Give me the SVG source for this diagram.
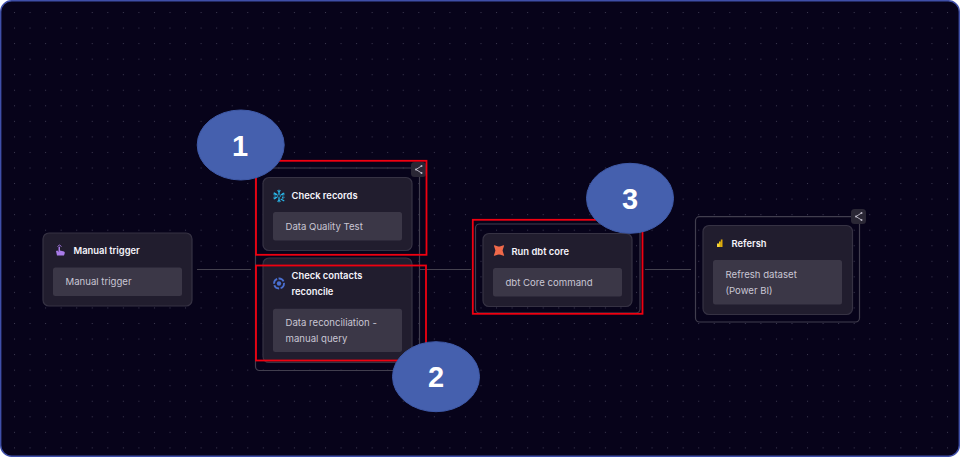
<svg xmlns="http://www.w3.org/2000/svg" width="960" height="457" viewBox="0 0 960 457">
<style>
.t{font-family:Inter,"Liberation Sans",sans-serif;font-size:9.4px;font-weight:600;fill:#f5f3fa}
.s{font-family:Inter,"Liberation Sans",sans-serif;font-size:9.6px;font-weight:400;fill:#c9c6d4}
.n{fill:#211d2e;stroke:#363243;stroke-width:1.2}
.i{fill:#3b3747}
.o{fill:none;stroke:#413e4e;stroke-width:1.2}
.r{fill:none;stroke:#f00010;stroke-width:1.8}
.c{stroke:#45424f;stroke-width:1;fill:none}
.e{fill:#4560ae;stroke:#3f5aa8;stroke-width:1}
.b{font-family:"Liberation Sans",sans-serif;font-size:29px;font-weight:700;fill:#fff;text-anchor:middle}
.sb{fill:#2a2735}
.sg{fill:none;stroke:#bdbac8;stroke-width:.9}
</style>
<defs>
<pattern id="dots" x="14" y="12" width="15.55" height="15.55" patternUnits="userSpaceOnUse">
<rect x="0" y="0" width="1" height="1" fill="#3c3950"/>
</pattern>
<g id="share">
<rect class="sb" x="-7.5" y="-7.5" width="15" height="15" rx="3.500"/>
<path class="sg" d="M3 -3.500L-2.500 0L3 3.500"/>
<circle cx="-2.500" cy="0" r="1" fill="#bdbac8"/>
<circle cx="3" cy="-3.500" r="1" fill="#bdbac8"/>
<circle cx="3" cy="3.500" r="1" fill="#bdbac8"/>
</g>
</defs>
<rect width="960" height="457" fill="#ffffff"/>
<rect x="0.7" y="0.7" width="958.6" height="455.6" rx="11" fill="#07031a" stroke="#3f4fa8" stroke-width="1.4"/>
<rect x="2" y="2" width="956" height="453" rx="10" fill="url(#dots)"/>
<g id="connectors">
<line class="c" x1="197" y1="269.500" x2="251" y2="269.500"/>
<line class="c" x1="420" y1="269.500" x2="471" y2="269.500"/>
<line class="c" x1="645" y1="269.500" x2="691" y2="269.500"/>
</g>
<g id="node-manual">
<rect class="n" x="43" y="233" width="149" height="73" rx="6"/>
<rect class="i" x="53" y="267.500" width="129" height="28.500" rx="2.500"/>
<path d="M57 255.500l-1-4.500 1.500-.5 1 1.500v-5q.8-1 1.500 0v3.500l4 1q1 .5 .8 1.500l-.8 2.500z" fill="#a87be8"/>
<path d="M59.500 245l-2 1.500M59.500 245l2 1.500" stroke="#a87be8" stroke-width=".9" fill="none"/>
<text class="t" x="73.500" y="253.500">Manual trigger</text>
<text class="s" x="65.500" y="285">Manual trigger</text>
</g>
<g id="node-check-records">
<rect class="o" x="255.500" y="168" width="164" height="202.500" rx="4"/>
<use href="#share" x="418.500" y="169.500"/>
<rect class="n" x="263" y="177.500" width="149" height="73" rx="6"/>
<rect class="i" x="273" y="212" width="129" height="28.500" rx="2.500"/>
<g stroke="#29b5e8" stroke-width="1.300" fill="none">
<path d="M279 189.700v4.300M279 198v4.300M273.700 192.900l3.600 2M280.700 199l3.600 2M273.700 199l3.600-2M280.700 195l3.600-2"/>
<path d="M277.200 190.500l1.800 1.500 1.800-1.500M277.200 201.500l1.800-1.500 1.800 1.500M273.500 194.700l2.200.4-.8-2.200M284.500 197.300l-2.200-.4.800 2.200M273.500 197.300l2.200-.4-.8 2.200M284.500 194.700l-2.200.4.800-2.200" stroke-width=".9"/>
<path d="M279 194.200l1.700 1.800-1.700 1.800-1.700-1.800z" stroke-width=".8"/>
</g>
<text class="t" x="291.500" y="198.500">Check records</text>
<text class="s" x="285.500" y="230">Data Quality Test</text>
</g>
<g id="node-check-contacts">
<rect class="n" x="263" y="258" width="149" height="104.500" rx="6"/>
<rect class="i" x="273" y="308.700" width="129" height="43.300" rx="2.500"/>
<circle cx="279" cy="283.500" r="5" fill="none" stroke="#4a6fd0" stroke-width="1.800" stroke-dasharray="6 1.500"/>
<circle cx="279" cy="283.500" r="2.200" fill="#4a6fd0"/>
<text class="t" x="291.500" y="279">Check contacts</text>
<text class="t" x="291.500" y="295">reconcile</text>
<text class="s" x="285.500" y="326">Data reconciliation -</text>
<text class="s" x="285.500" y="341.500">manual query</text>
</g>
<g id="node-run-dbt">
<rect class="o" x="475.500" y="224" width="164.500" height="89" rx="4"/>
<rect class="n" x="483" y="233.500" width="149" height="73" rx="6"/>
<rect class="i" x="493" y="268" width="129" height="28.500" rx="2.500"/>
<path d="M494 246q-.5-.8.500-.8l3 1q1.500 .8 3 0l3-1q1 0 .500.800l-1 3q-.8 1.500 0 3l1 3q.5 .800-.500.800l-3-1q-1.500-.8-3 0l-3 1q-1 0-.5-.8l1-3q.8-1.500 0-3z" fill="#f0694a"/>
<text class="t" x="511.500" y="254.500">Run dbt core</text>
<text class="s" x="505.500" y="286">dbt Core command</text>
</g>
<g id="node-refresh">
<rect class="o" x="695.500" y="216.700" width="164" height="105.300" rx="4"/>
<use href="#share" x="858.500" y="216.500"/>
<rect class="n" x="703" y="225.500" width="149.500" height="89" rx="6"/>
<rect class="i" x="713" y="260" width="129" height="44.500" rx="2.500"/>
<path d="M717 243.500h2v3.500h-2z" fill="#f5d33e"/>
<path d="M719 241.500h1.800v5.500h-1.800z" fill="#f2c811"/>
<path d="M720.800 239.500h1.700v7.500h-1.700z" fill="#e0a90a"/>
<text class="t" x="731.500" y="246.500">Refersh</text>
<text class="s" x="725.500" y="278">Refresh dataset</text>
<text class="s" x="725.500" y="293.500">(Power BI)</text>
</g>
<g id="highlights">
<rect class="r" x="256" y="160.800" width="170.500" height="94"/>
<rect class="r" x="256" y="265.500" width="170" height="95"/>
<rect class="r" x="472.800" y="219.800" width="169.700" height="94"/>
</g>
<g id="badge-1"><ellipse class="e" cx="240.700" cy="145" rx="43.500" ry="35"/><text class="b" x="240" y="156">1</text></g>
<g id="badge-2"><ellipse class="e" cx="436" cy="376.700" rx="43.500" ry="35"/><text class="b" x="436" y="387">2</text></g>
<g id="badge-3"><ellipse class="e" cx="630" cy="198.300" rx="43.500" ry="35"/><text class="b" x="630" y="209">3</text></g>
</svg>
